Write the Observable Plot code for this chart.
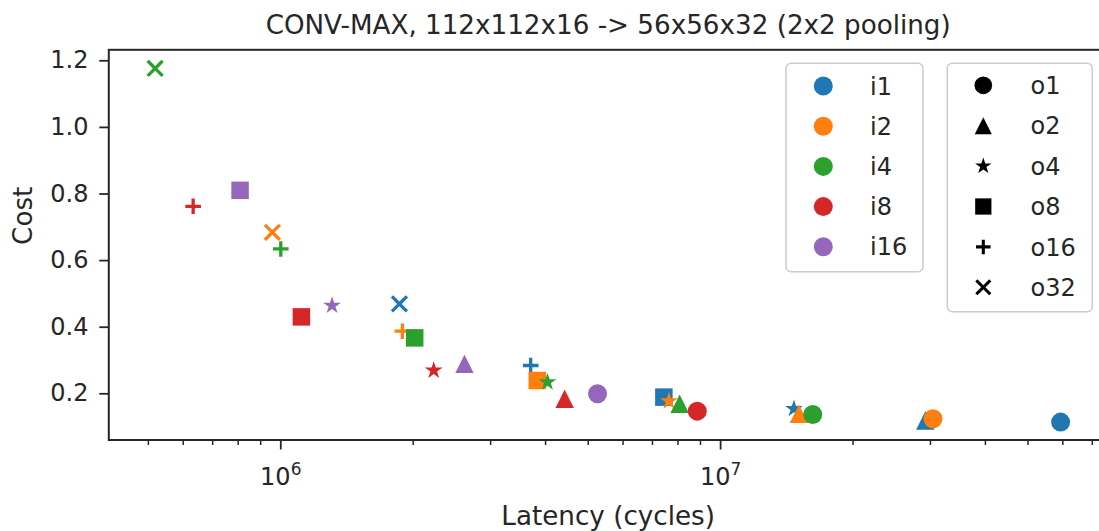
<!DOCTYPE html>
<html><head><meta charset="utf-8">
<script src="https://cdn.jsdelivr.net/npm/d3@7"></script>
<script src="https://cdn.jsdelivr.net/npm/@observablehq/plot@0.6"></script>
<style>
html,body{margin:0;padding:0;background:#fff;overflow:hidden;}
#wrap{position:relative;width:1099px;height:531px;}
#wrap svg{position:absolute;left:0;top:0;}
</style></head><body><div id="wrap"></div>
<script>
// ---- data ----
const inputs = ["i1", "i2", "i4", "i8", "i16"];
const outputs = ["o1", "o2", "o4", "o8", "o16", "o32"];
const colors = ["#1f77b4", "#ff7f0e", "#2ca02c", "#d62728", "#9467bd"];

// latency (cycles) and cost per input group, ordered o1, o2, o4, o8, o16, o32
const latency_i1 = [5.93e7, 2.92e7, 1.468e7, 7.43e6, 3.70e6, 1.861e6];
const cost_i1    = [0.115, 0.120, 0.155, 0.190, 0.285, 0.470];
const latency_i2 = [3.04e7, 1.507e7, 7.63e6, 3.83e6, 1.89e6, 9.57e5];
const cost_i2    = [0.125, 0.140, 0.178, 0.240, 0.388, 0.685];
const latency_i4 = [1.62e7, 8.07e6, 4.04e6, 2.016e6, 1.0e6, 5.18e5];
const cost_i4    = [0.138, 0.170, 0.235, 0.368, 0.635, 1.177];
const latency_i8 = [8.85e6, 4.42e6, 2.227e6, 1.114e6, 6.32e5];
const cost_i8    = [0.148, 0.185, 0.270, 0.431, 0.763];
const latency_i16 = [5.25e6, 2.616e6, 1.308e6, 8.08e5];
const cost_i16    = [0.200, 0.290, 0.465, 0.811];

const title = "CONV-MAX, 112x112x16 -> 56x56x32 (2x2 pooling)";
const xLabel = "Latency (cycles)";
const yLabel = "Cost";
const xDomain = [4.064e5, 7.58e7];
const yDomain = [0.0613, 1.233];
const xTicksMajor = [1e6, 1e7];
const xTickLabels = ["10^6", "10^7"];
const xTicksMinor = [5e5, 6e5, 7e5, 8e5, 9e5, 2e6, 3e6, 4e6, 5e6, 6e6, 7e6, 8e6, 9e6, 2e7, 3e7, 4e7, 5e7, 6e7, 7e7];
const yTicks = [0.2, 0.4, 0.6, 0.8, 1.0, 1.2];

// ---- table ----
const groups = [
  [latency_i1, cost_i1], [latency_i2, cost_i2], [latency_i4, cost_i4],
  [latency_i8, cost_i8], [latency_i16, cost_i16]
];
const points = [];
groups.forEach(([lat, cst], gi) => {
  lat.forEach((v, k) => points.push({lat: v, cost: cst[k], i: inputs[gi], o: outputs[k]}));
});

// ---- matplotlib-like marker shapes ----
function crossPath(c, a, t, rot) {
  const pts = [[-a,-t],[-t,-t],[-t,-a],[t,-a],[t,-t],[a,-t],[a,t],[t,t],[t,a],[-t,a],[-t,t],[-a,t]];
  const cs = Math.cos(rot), sn = Math.sin(rot);
  pts.forEach(([x, y], k) => {
    const X = x * cs - y * sn, Y = x * sn + y * cs;
    k ? c.lineTo(X, Y) : c.moveTo(X, Y);
  });
  c.closePath();
}
const symCircle = {draw(c) { const r = 9.5; c.moveTo(r, 0); c.arc(0, 0, r, 0, 2 * Math.PI); c.closePath(); }};
const symTriangle = {draw(c) { const h = 9.2; c.moveTo(0, -h); c.lineTo(h, h); c.lineTo(-h, h); c.closePath(); }};
const symStar = {draw(c) {
  const R = 9.3, r = R * 0.381966;
  for (let k = 0; k < 10; k++) {
    const a = -Math.PI / 2 + k * Math.PI / 5, rr = k % 2 ? r : R;
    const x = rr * Math.cos(a), y = rr * Math.sin(a);
    k ? c.lineTo(x, y) : c.moveTo(x, y);
  }
  c.closePath();
}};
const symSquare = {draw(c) { const h = 8.75; c.moveTo(-h, -h); c.lineTo(h, -h); c.lineTo(h, h); c.lineTo(-h, h); c.closePath(); }};
const symPlus = {draw(c) { crossPath(c, 7.8, 1.65, 0); }};
const symTimes = {draw(c) { crossPath(c, 7.5 * Math.SQRT2, 1.65, Math.PI / 4); }};
const symbolList = [symCircle, symTriangle, symStar, symSquare, symPlus, symTimes];

const ink = "#262626";
const chart = Plot.plot({
  width: 1099, height: 531,
  marginLeft: 108.3, marginRight: -8, marginTop: 49.3, marginBottom: 91.5,
  style: {fontFamily: "DejaVu Sans", fontSize: "24px", color: ink, background: "white"},
  x: {type: "log", domain: xDomain},
  y: {domain: yDomain},
  color: {domain: inputs, range: colors},
  symbol: {domain: outputs, range: symbolList},
  marks: [
    Plot.axisY({ticks: yTicks, tickSize: 9, tickPadding: 11.3, tickFormat: d => d.toFixed(1), label: null, strokeWidth: 1.8}),
    Plot.axisX({ticks: xTicksMinor, tickSize: 5.5, tickFormat: () => "", label: null, strokeWidth: 1.5}),
    Plot.axisX({ticks: xTicksMajor, tickSize: 10, tickPadding: 18, tickFormat: d => xTickLabels[xTicksMajor.findIndex(t => Math.abs(t - d) / t < 1e-6)] ?? "", label: null, strokeWidth: 1.8}),
    Plot.frame({stroke: ink, strokeWidth: 2}),
    Plot.dot(points, {x: "lat", y: "cost", symbol: "o", fill: "i", stroke: "none", r: 5}),
    Plot.text([title], {frameAnchor: "top", lineAnchor: "middle", dy: -23.7, fontSize: 26.2, fill: ink}),
    Plot.text([xLabel], {frameAnchor: "bottom", lineAnchor: "middle", dy: 77, fontSize: 26.2, fill: ink}),
    Plot.text([yLabel], {frameAnchor: "left", lineAnchor: "middle", dx: -84.7, rotate: -90, fontSize: 26.2, fill: ink})
  ]
});
document.getElementById("wrap").appendChild(chart);

// mathtext-like superscripts for the log tick labels
d3.select(chart).selectAll("text").each(function() {
  const m = /^10\^(\d+)$/.exec(this.textContent);
  if (m) {
    this.textContent = "10";
    d3.select(this).append("tspan").attr("dy", "-10px").attr("font-size", "17px").text(m[1]);
  }
});

// ---- legends ----
const leg = d3.select("#wrap").append("svg")
  .attr("width", 1099).attr("height", 531)
  .style("font-family", "DejaVu Sans").style("font-size", "24px");

function box(x, y, w, h) {
  leg.append("rect").attr("x", x).attr("y", y).attr("width", w).attr("height", h)
    .attr("rx", 5).attr("fill", "white").attr("fill-opacity", 0.8)
    .attr("stroke", "#cccccc").attr("stroke-width", 1.5);
}
box(786, 63.3, 137, 208.4);
inputs.forEach((name, k) => {
  const cy = 86 + k * 40.2;
  leg.append("path").attr("transform", `translate(823.3,${cy})`)
    .attr("d", d3.symbol(symCircle)()).attr("fill", colors[k]);
  leg.append("text").attr("x", 870).attr("y", cy).attr("dy", "0.36em").attr("fill", ink).text(name);
});
box(947.3, 63.3, 145, 248.4);
outputs.forEach((name, k) => {
  const cy = 85.3 + k * 40.4;
  leg.append("path").attr("transform", `translate(983.3,${cy}) scale(0.93)`)
    .attr("d", d3.symbol(symbolList[k])()).attr("fill", "black");
  leg.append("text").attr("x", 1030.5).attr("y", cy).attr("dy", "0.36em").attr("fill", ink).text(name);
});
</script></body></html>
